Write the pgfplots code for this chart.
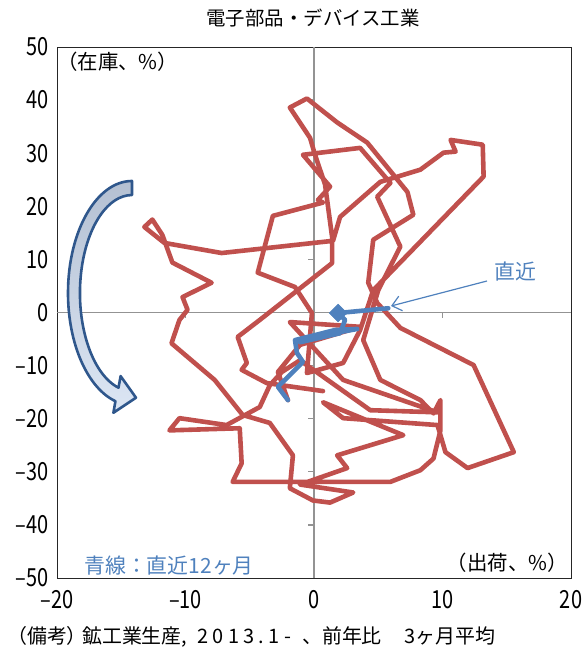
\documentclass[border=0pt]{standalone}
\usepackage{fontspec}
\setmainfont{Noto Sans CJK JP}
\newfontfamily\numfont{Noto Sans CJK JP}[FakeStretch=0.8]
\usepackage{pgfplots}
\pgfplotsset{compat=1.18}
\usetikzlibrary{arrows.meta}

\definecolor{redc}{RGB}{192,80,77}
\definecolor{bluec}{RGB}{79,129,189}
\definecolor{arrowblue}{RGB}{47,87,140}
\definecolor{arrowtop}{RGB}{180,192,210}
\definecolor{arrowbot}{RGB}{220,230,244}

\begin{document}
\begin{tikzpicture}
  \useasboundingbox (-57bp,-75bp) rectangle (529bp,578bp);
  \begin{axis}[
      at={(0,0)}, anchor=south west,
      scale only axis,
      width=514bp, height=531bp,
      xmin=-20, xmax=20,
      ymin=-50, ymax=50,
      xtick={-20,-10,...,20},
      ytick={-50,-40,...,50},
      xticklabels={–20,–10,0,10,20},
      yticklabels={–50,–40,–30,–20,–10,0,10,20,30,40,50},
      major tick length=0pt,
      axis line style={draw=black!85, line width=0.9bp},
      tick label style={font=\numfont\fontsize{25}{27}\selectfont},
      yticklabel style={xshift=-5bp},
      xticklabel style={yshift=-9bp},
    ]
    % zero lines and their ticks
    \draw[gray!85, line width=1.3bp] (axis cs:0,-50) -- (axis cs:0,50);
    \draw[gray!85, line width=1.3bp] (axis cs:-20,0) -- (axis cs:20,0);
    \pgfplotsinvokeforeach{-40,-30,-20,-10,10,20,30,40}{
      \draw[gray!85, line width=1.2bp] (axis cs:0,#1) -- (axis cs:-0.47,#1);
    }
    \pgfplotsinvokeforeach{-10,10}{
      \draw[gray!85, line width=1.2bp] (axis cs:#1,0) -- (axis cs:#1,-1.1);
    }

    % red: 2013.1 onwards
    \addplot[color=redc, line width=4.6bp, line join=round, line cap=round]
    coordinates{
      (0.70,-14.8) (-3.67,-13.3) (-5.63,-10.8) (-5.23,-9.5) (-5.94,-4.6)
      (-4.22,-1.4) (1.41,9.3) (1.41,14.2) (0.86,24.1) (0.08,29.7)
      (-0.31,32.9) (-1.88,38.6) (-0.55,40.3) (1.80,35.8) (4.14,32.0)
      (7.27,22.7) (7.73,18.4) (4.61,13.7) (4.22,5.6) (4.92,1.8)
      (6.72,-2.9) (12.42,-9.9) (15.55,-26.3) (11.95,-29.3) (10.23,-26.3)
      (9.61,-21.2) (2.27,-19.9) (0.70,-16.9) (6.95,-23.1) (1.80,-26.9)
      (2.58,-29.3) (-1.09,-32.4) (3.05,-33.9) (1.25,-35.8) (-0.08,-35.4)
      (-1.88,-33.1) (-1.64,-26.9) (-3.44,-20.8) (-5.55,-19.3) (-7.73,-12.7)
      (-11.09,-5.8) (-10.47,-1.4) (-9.84,0.5) (-10.23,2.9) (-7.97,5.6)
      (-11.02,9.4) (-11.80,14.6) (-12.58,17.5) (-13.20,16.1) (-11.64,13.1)
      (-7.19,11.2) (1.48,13.5) (2.03,18.0) (5.16,24.6) (8.28,26.9)
      (10.08,30.1) (11.02,30.3) (10.63,32.5) (13.13,31.6) (13.20,25.6)
      (4.61,4.2) (3.59,-3.3) (2.27,-9.5) (-0.55,-11.4) (-0.16,-0.1)
      (-1.48,4.8) (-4.38,7.5) (-3.20,18.2) (0.70,20.7) (0.31,21.2)
      (1.25,23.7) (-0.86,29.7) (3.59,31.0) (5.94,24.4) (4.92,21.8)
      (6.72,12.4) (5.00,4.2) (3.83,-5.2) (5.16,-12.7) (8.28,-16.5)
      (9.30,-19.0) (9.84,-16.5) (9.84,-22.2) (9.30,-27.5) (8.28,-29.7)
      (5.94,-31.9) (-6.33,-31.9) (-5.63,-28.4) (-5.78,-21.8) (-11.25,-22.2)
      (-10.47,-19.9) (-6.80,-21.2) (-4.22,-17.8) (-3.44,-13.7) (-2.50,-11.2)
      (-1.09,-9.0) (4.38,-18.4) (9.61,-18.8) (2.27,-12.7) (-1.88,-1.8)
      (3.59,-2.7) (-1.09,-6.1) (-2.81,-11.2) (-2.03,-16.5)
    };

    % blue: latest 12 months
    \addplot[color=bluec, line width=4.6bp, line join=round, line cap=round]
    coordinates{
      (-2.03,-16.5) (-2.81,-14.0) (-0.86,-9.3) (-1.33,-7.6) (-1.48,-5.2)
      (1.64,-3.3) (3.36,-3.1) (0.47,-4.4) (-1.09,-5.6) (2.03,-3.9)
      (2.42,-1.4) (1.88,-0.1) (5.78,0.8)
    };
    \addplot[only marks, mark=square*, mark size=6.3bp,
             mark options={rotate=45, draw=bluec, fill=bluec, line width=0.5bp}]
    coordinates{ (1.88,-0.1) };
  \end{axis}

  % curved arrow
  \path[draw=arrowblue, line width=2.6bp, line join=round,
        top color=arrowtop, bottom color=arrowbot]
    (75bp,397bp) arc[start angle=90, end angle=255, x radius=64bp, y radius=112bp]
    -- (56.4bp,165.2bp) -- (79bp,180.3bp) -- (63.6bp,201.9bp) -- (61.5bp,190.3bp)
    arc[start angle=255, end angle=90, x radius=52bp, y radius=98bp] -- cycle;

  % annotation arrow
  \draw[bluec, line width=1.2bp, -{Straight Barb[length=9bp,width=15bp]}]
    (430bp,297bp) -- (334bp,272bp);

  \node[font=\fontsize{19.5}{22}\selectfont] at (256bp,560bp) {電子部品・デバイス工業};
  \node[anchor=west, inner sep=0pt, font=\fontsize{20.5}{22}\selectfont] at (0bp,516bp) {（在庫、\%）};
  \node[anchor=east, inner sep=0pt, font=\fontsize{20.5}{22}\selectfont] at (511bp,15bp) {（出荷、\%）};
  \node[anchor=west, inner sep=0pt, text=bluec, font=\fontsize{21}{22}\selectfont] at (27bp,12bp) {青線：直近12ヶ月};
  \node[anchor=west, inner sep=0pt, text=bluec, font=\fontsize{21}{22}\selectfont] at (437bp,306bp) {直近};
  % note, set in pieces at the reference's spacing
  \begin{scope}[every node/.style={anchor=base west, inner sep=0pt, font=\fontsize{20}{22}\selectfont}]
    \node at (-50bp,-65bp) {（備考）};
    \node at (25bp,-65bp) {鉱工業生産,};
    \node at (140bp,-65bp) {\addfontfeature{LetterSpace=22}2013.1-};
    \node at (245bp,-65bp) {、前年比};
    \node at (347bp,-65bp) {3ヶ月平均};
  \end{scope}
\end{tikzpicture}
\end{document}
